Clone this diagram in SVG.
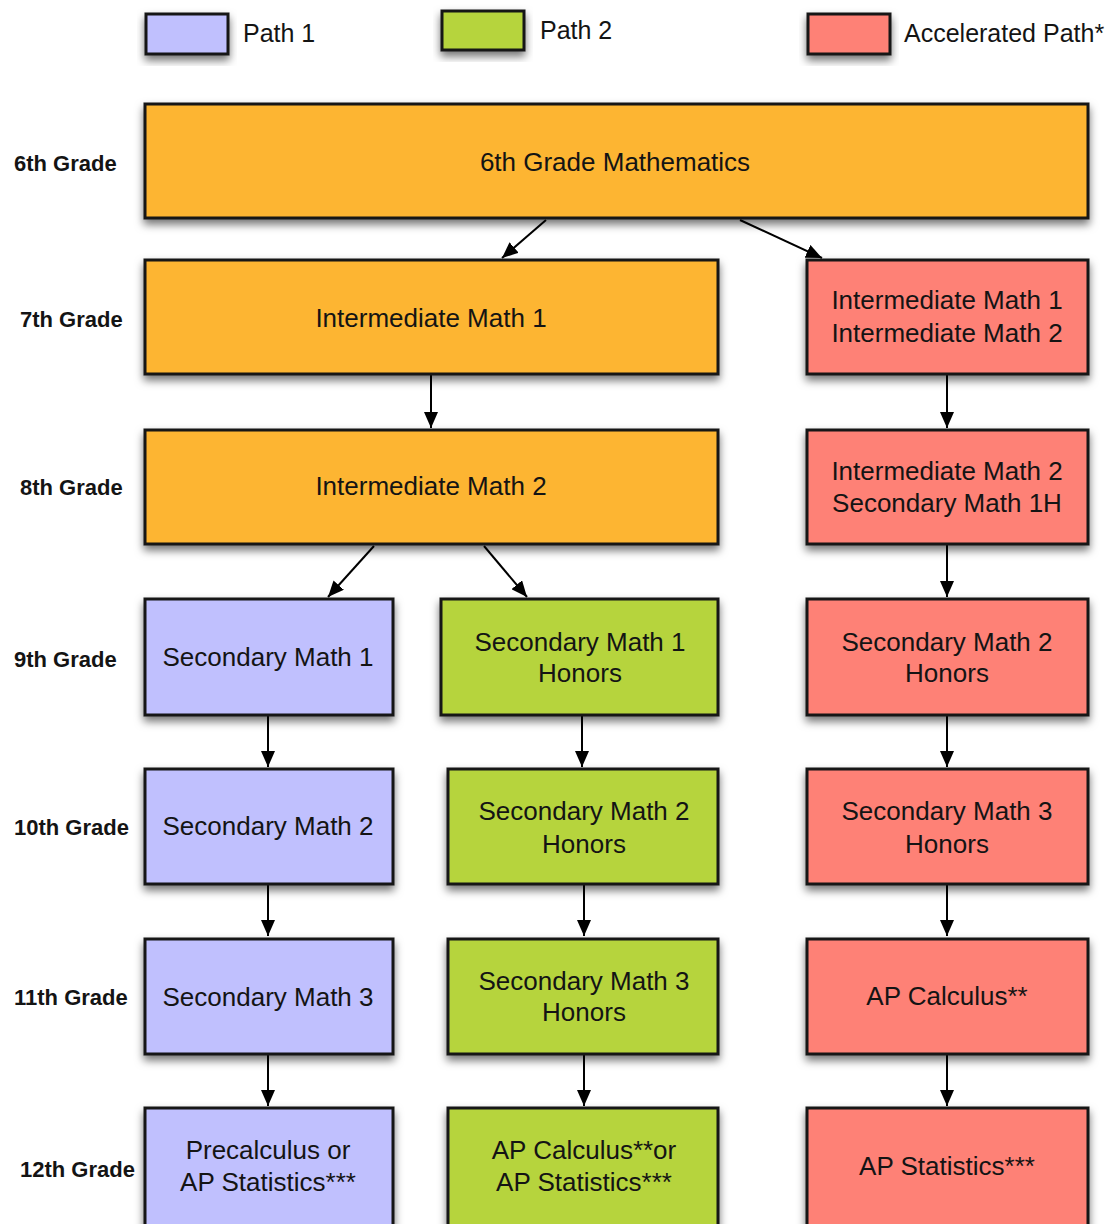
<svg xmlns="http://www.w3.org/2000/svg" width="1120" height="1224" viewBox="0 0 1120 1224">
<style>
.box{stroke:#151515;stroke-width:3;filter:url(#sh)}
.or{fill:#FDB533}.pu{fill:#C0C0FE}.gr{fill:#B6D43E}.rd{fill:#FE8176}
.t{font-family:"Liberation Sans",Arial,sans-serif;font-size:26px;fill:#141414;text-anchor:middle}
.lg{font-family:"Liberation Sans",Arial,sans-serif;font-size:25px;fill:#141414}
.gl{font-family:"Liberation Sans",Arial,sans-serif;font-size:22px;font-weight:bold;fill:#141414}
.c{stroke:#000;stroke-width:2;fill:none;marker-end:url(#ah)}
</style>
<defs>
<filter id="sh" x="-10%" y="-20%" width="120%" height="150%">
<feDropShadow dx="0" dy="5" stdDeviation="4" flood-color="#000" flood-opacity="0.55"/>
</filter>
<marker id="ah" viewBox="0 0 16 14" refX="16" refY="7" markerWidth="16" markerHeight="14" markerUnits="userSpaceOnUse" orient="auto">
<path d="M0,0 L16,7 L0,14 Z" fill="#000"/>
</marker>
</defs>
<rect width="1120" height="1224" fill="#fff"/>

<g id="legend">
<rect class="box pu" x="146" y="14" width="82" height="40"/>
<text class="lg" x="243" y="42">Path 1</text>
<rect class="box gr" x="442" y="11" width="82" height="39"/>
<text class="lg" x="540" y="39">Path 2</text>
<rect class="box rd" x="808" y="14" width="82" height="40"/>
<text class="lg" x="904" y="42">Accelerated Path*</text>
</g>

<g id="grades">
<text class="gl" x="14" y="171">6th Grade</text>
<text class="gl" x="20" y="327">7th Grade</text>
<text class="gl" x="20" y="495">8th Grade</text>
<text class="gl" x="14" y="667">9th Grade</text>
<text class="gl" x="14" y="835">10th Grade</text>
<text class="gl" x="14" y="1005">11th Grade</text>
<text class="gl" x="20" y="1177">12th Grade</text>
</g>

<g id="connectors">
<line class="c" x1="546" y1="220" x2="502" y2="258"/>
<line class="c" x1="740" y1="220" x2="822" y2="258"/>
<line class="c" x1="431" y1="375" x2="431" y2="428"/>
<line class="c" x1="947" y1="375" x2="947" y2="428"/>
<line class="c" x1="374" y1="546" x2="328" y2="597"/>
<line class="c" x1="484" y1="546" x2="527" y2="597"/>
<line class="c" x1="947" y1="545" x2="947" y2="597"/>
<line class="c" x1="268" y1="716" x2="268" y2="767"/>
<line class="c" x1="582" y1="716" x2="582" y2="767"/>
<line class="c" x1="947" y1="716" x2="947" y2="767"/>
<line class="c" x1="268" y1="885" x2="268" y2="936"/>
<line class="c" x1="584" y1="885" x2="584" y2="936"/>
<line class="c" x1="947" y1="885" x2="947" y2="936"/>
<line class="c" x1="268" y1="1055" x2="268" y2="1106"/>
<line class="c" x1="584" y1="1055" x2="584" y2="1106"/>
<line class="c" x1="947" y1="1055" x2="947" y2="1106"/>
</g>

<g id="n6">
<rect class="box or" x="145" y="104" width="943" height="114"/>
<text class="t" x="615" y="171">6th Grade Mathematics</text>
</g>
<g id="n7a">
<rect class="box or" x="145" y="260" width="573" height="114"/>
<text class="t" x="431" y="327">Intermediate Math 1</text>
</g>
<g id="n7b">
<rect class="box rd" x="807" y="260" width="281" height="114"/>
<text class="t" x="947" y="309">Intermediate Math 1</text>
<text class="t" x="947" y="342">Intermediate Math 2</text>
</g>
<g id="n8a">
<rect class="box or" x="145" y="430" width="573" height="114"/>
<text class="t" x="431" y="495">Intermediate Math 2</text>
</g>
<g id="n8b">
<rect class="box rd" x="807" y="430" width="281" height="114"/>
<text class="t" x="947" y="480">Intermediate Math 2</text>
<text class="t" x="947" y="512">Secondary Math 1H</text>
</g>
<g id="n9a">
<rect class="box pu" x="145" y="599" width="248" height="116"/>
<text class="t" x="268" y="666">Secondary Math 1</text>
</g>
<g id="n9b">
<rect class="box gr" x="441" y="599" width="277" height="116"/>
<text class="t" x="580" y="651">Secondary Math 1</text>
<text class="t" x="580" y="682">Honors</text>
</g>
<g id="n9c">
<rect class="box rd" x="807" y="599" width="281" height="116"/>
<text class="t" x="947" y="651">Secondary Math 2</text>
<text class="t" x="947" y="682">Honors</text>
</g>
<g id="n10a">
<rect class="box pu" x="145" y="769" width="248" height="115"/>
<text class="t" x="268" y="835">Secondary Math 2</text>
</g>
<g id="n10b">
<rect class="box gr" x="448" y="769" width="270" height="115"/>
<text class="t" x="584" y="820">Secondary Math 2</text>
<text class="t" x="584" y="853">Honors</text>
</g>
<g id="n10c">
<rect class="box rd" x="807" y="769" width="281" height="115"/>
<text class="t" x="947" y="820">Secondary Math 3</text>
<text class="t" x="947" y="853">Honors</text>
</g>
<g id="n11a">
<rect class="box pu" x="145" y="939" width="248" height="115"/>
<text class="t" x="268" y="1006">Secondary Math 3</text>
</g>
<g id="n11b">
<rect class="box gr" x="448" y="939" width="270" height="115"/>
<text class="t" x="584" y="990">Secondary Math 3</text>
<text class="t" x="584" y="1021">Honors</text>
</g>
<g id="n11c">
<rect class="box rd" x="807" y="939" width="281" height="115"/>
<text class="t" x="947" y="1005">AP Calculus**</text>
</g>
<g id="n12a">
<rect class="box pu" x="145" y="1108" width="248" height="120"/>
<text class="t" x="268" y="1159">Precalculus or</text>
<text class="t" x="268" y="1191">AP Statistics***</text>
</g>
<g id="n12b">
<rect class="box gr" x="448" y="1108" width="270" height="120"/>
<text class="t" x="584" y="1159">AP Calculus**or</text>
<text class="t" x="584" y="1191">AP Statistics***</text>
</g>
<g id="n12c">
<rect class="box rd" x="807" y="1108" width="281" height="120"/>
<text class="t" x="947" y="1175">AP Statistics***</text>
</g>
</svg>
